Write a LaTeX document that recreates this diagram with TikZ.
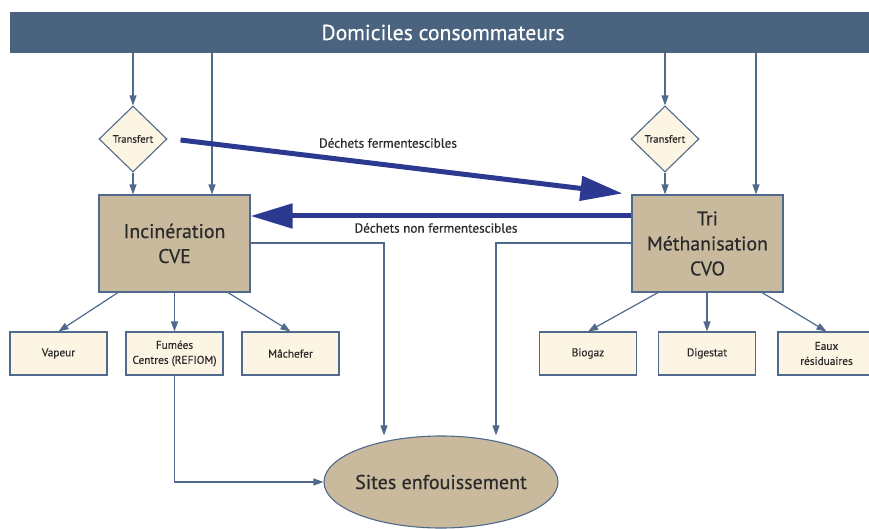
\documentclass[tikz,border=0pt]{standalone}
\usepackage{fontspec}
\setmainfont{PT Sans}[FakeBold=0.4]
\usetikzlibrary{shapes.geometric,arrows.meta,calc}
\definecolor{barblue}{HTML}{4A6480}
\definecolor{linkc}{HTML}{4F6A8C}
\definecolor{tan}{HTML}{C9BA9E}
\definecolor{cream}{HTML}{FDF5E4}
\definecolor{thick}{HTML}{2B3990}
\definecolor{txt}{HTML}{2A2A2A}
\begin{document}
\begin{tikzpicture}[x=1pt,y=-1pt,
  every node/.style={text=txt},
  arr/.style={draw=linkc,line width=1.2pt,-{Triangle[length=10pt,width=7pt]}},
  bigarr/.style={draw=thick,line width=5pt,-{Triangle[length=42pt,width=24pt]}},
  trans/.style={diamond,draw=linkc,line width=1.1pt,fill=cream,minimum width=68pt,minimum height=66pt,inner sep=0pt,font=\fontsize{10.7}{12}\selectfont},
  mainbox/.style={rectangle,draw=linkc,line width=1.1pt,fill=tan,minimum width=151pt,minimum height=97pt,inner sep=0pt,align=center,font=\fontsize{19.8}{25}\selectfont},
  subbox/.style={rectangle,draw=linkc,line width=1.1pt,fill=cream,minimum width=97pt,minimum height=43pt,inner sep=0pt,align=center,font=\fontsize{11.3}{15}\selectfont},
  lbl/.style={font=\fontsize{13.2}{15}\selectfont,inner sep=0pt}
]
\useasboundingbox (0,0) rectangle (869,529);
\node[rectangle,fill=barblue,minimum width=866pt,minimum height=41pt,inner sep=0pt,text=white,font=\fontsize{21.7}{24}\selectfont] (bar) at (443,32.5) {Domiciles consommateurs};

\node[trans] (ld) at (133,139) {Transfert};
\node[trans] (rd) at (665,139) {Transfert};

\node[mainbox] (inc) at (174.5,243.5) {Incinération\\CVE};
\node[mainbox] (tri) at (707.5,243.5) {Tri\\Méthanisation\\CVO};

\node[subbox] (vap) at (58.5,353.5) {Vapeur};
\node[subbox] (fum) at (174.5,353.5) {Fumées\\Centres (REFIOM)};
\node[subbox] (mac) at (290.5,353.5) {Mâchefer};
\node[subbox] (bio) at (588,353.5) {Biogaz};
\node[subbox] (dig) at (707,353.5) {Digestat};
\node[subbox] (eau) at (826.5,353.5) {Eaux\\résiduaires};

\node[ellipse,draw=linkc,line width=1.1pt,fill=tan,minimum width=234pt,minimum height=92pt,inner ysep=0pt,inner xsep=-8pt,font=\fontsize{20}{22}\selectfont] (site) at (441,482) {Sites enfouissement};

\coordinate (lx) at (212,0);
\coordinate (rx) at (756,0);
\coordinate (ly) at (0,216);
\coordinate (gy) at (0,243);
\coordinate (ix) at (384,0);
\coordinate (tx) at (496,0);

% from bar
\draw[arr] (ld.north |- bar.south) -- (ld.north);
\draw[arr] (bar.south -| lx) -- (inc.north -| lx);
\draw[arr] (rd.north |- bar.south) -- (rd.north);
\draw[arr] (bar.south -| rx) -- (tri.north -| rx);
\draw[arr] (ld.south) -- (inc.north -| ld.south);
\draw[arr] (rd.south) -- (tri.north -| rd.south);

% thick arrows
\coordinate (fs) at ($(ld.east)+(13,1)$);
\coordinate (fe) at ($(tri.north west)+(-9,-1)$);
\draw[bigarr] (fs) -- (fe);
\draw[bigarr] (tri.west |- ly) -- (inc.east |- ly);
\node[lbl] (l1) at (388,143) {Déchets fermentescibles};
\node[lbl] (l2) at (436,228) {Déchets non fermentescibles};

% to sites
\draw[arr] (inc.east |- gy) -| (site.north -| ix);
\draw[arr] (tri.west |- gy) -| (site.north -| tx);
\draw[arr] (fum.south) |- (site.west);

% sub products
\draw[arr] (inc.south -| 118,0) -- (vap.north);
\draw[arr] (inc.south) -- (fum.north);
\draw[arr] (inc.south -| 228,0) -- (mac.north);
\draw[arr] (tri.south -| 658,0) -- (bio.north);
\draw[arr] (tri.south -| dig.north) -- (dig.north);
\draw[arr] (tri.south -| 762,0) -- (eau.north);
\end{tikzpicture}
\end{document}
